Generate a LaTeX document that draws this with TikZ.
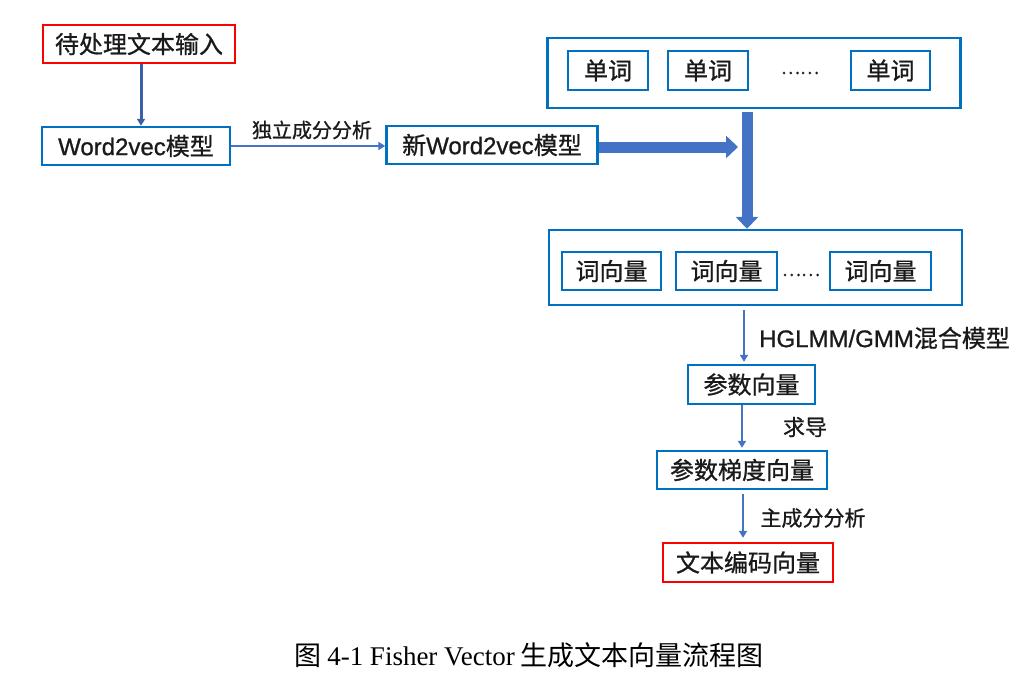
\documentclass[tikz,border=0pt]{standalone}
\usepackage{fontspec}
\newfontfamily\cjk[FakeBold=0.9]{Noto Sans CJK SC}
\newfontfamily\lat[FakeBold=0.9]{Liberation Sans}
\newfontfamily\capcjk{Noto Sans CJK SC}
\newfontfamily\capserif{Liberation Serif}
\usetikzlibrary{arrows.meta}
\definecolor{boxblue}{HTML}{0070C0}
\definecolor{boxred}{HTML}{FF0000}
\definecolor{arrblue}{HTML}{4472C4}
\definecolor{txt}{HTML}{1A1A1A}
\begin{document}
\begin{tikzpicture}[x=1pt,y=-1pt,
  box/.style={draw=boxblue, line width=2.4pt, inner sep=0pt, minimum height=38pt, text=txt,
    font=\cjk\fontsize{24}{24}\selectfont},
  redbox/.style={box, draw=boxred},
  bigbox/.style={draw=boxblue, line width=2.4pt, inner sep=0pt},
  thin/.style={draw=arrblue, line width=2pt, -{Triangle[length=7pt,width=8pt]}},
  thick/.style={draw=arrblue, line width=11pt, -{Triangle[length=12pt,width=22pt]}},
  lbl/.style={inner sep=0pt, text=txt, font=\cjk\fontsize{20}{20}\selectfont},
  dots/.style={inner sep=0pt, text=txt, font=\cjk\fontsize{18}{18}\selectfont}]
\useasboundingbox (0,0) rectangle (1035,698);
% left column
\node[redbox, minimum width=192pt] (in) at (139,44) {待处理文本输入};
\node[box, minimum width=188pt] (w2v) at (136,146) {{\lat Word2vec}模型};
\node[box, minimum width=211pt] (nw2v) at (492,145) {新{\lat Word2vec}模型};
\draw[draw=arrblue!85!black, line width=3pt, -{Triangle[length=7pt,width=8pt]}]
  ([xshift=2pt]in.south) -- ([xshift=2pt]in.south |- w2v.north);
\draw[thin] (w2v.east) -- (w2v.east -| nw2v.west);
\node[lbl] (ica) at (312,130) {独立成分分析};
% word box
\node[bigbox, minimum width=413pt, minimum height=70pt] (words) at (754,73) {};
\node[box, minimum width=80pt, minimum height=39pt] (wd1) at (608,70.5) {单词};
\node[box, minimum width=80pt, minimum height=39pt] (wd2) at (708,70.5) {单词};
\node[dots] (wdots) at (800,73) {……};
\node[box, minimum width=79pt, minimum height=39pt] (wd3) at (890.5,70.5) {单词};
% vector box
\node[bigbox, minimum width=413pt, minimum height=75pt] (vecs) at (755.5,267.5) {};
\node[box, minimum width=99pt] (v1) at (611.5,271) {词向量};
\node[box, minimum width=101pt] (v2) at (726.5,271) {词向量};
\node[dots] (vdots) at (801,275) {……};
\node[box, minimum width=101pt] (v3) at (880.5,271) {词向量};
% thick arrows
\coordinate (vx) at (747,0);
\coordinate (tip) at (738,147);
\draw[thick] (nw2v.east |- tip) -- (tip);
\draw[thick] ([yshift=-3pt]words.south -| vx) -- (vecs.north -| vx);
% lower chain
\node[box, minimum width=127pt, minimum height=39pt] (par) at (751.5,384.5) {参数向量};
\node[box, minimum width=170pt] (grad) at (742,470) {参数梯度向量};
\node[redbox, minimum width=170pt, minimum height=39pt] (enc) at (748,562.5) {文本编码向量};
\coordinate (a1) at (744,0);
\coordinate (a2) at (742,0);
\coordinate (a3) at (743,0);
\draw[thin, shorten <=4pt, shorten >=2pt] (vecs.south -| a1) -- (par.north -| a1);
\draw[thin, shorten >=2pt] (par.south -| a2) -- (grad.north -| a2);
\draw[thin, shorten <=4pt, shorten >=4pt] (grad.south -| a3) -- (enc.north -| a3);
\node[lbl, anchor=west, font=\cjk\fontsize{24}{24}\selectfont] (hg) at (759,338) {{\lat HGLMM/GMM}混合模型};
\node[lbl, font=\cjk\fontsize{22}{22}\selectfont] (qd) at (805,427) {求导};
\node[lbl, font=\cjk\fontsize{21}{21}\selectfont] (pca) at (813,518) {主成分分析};
% caption
\node[inner sep=0pt, font=\capcjk\fontsize{27}{27}\selectfont, text=black] (cap) at (529,655)
  {图 {\capserif 4-1 Fisher Vector} 生成文本向量流程图};
\end{tikzpicture}
\end{document}
